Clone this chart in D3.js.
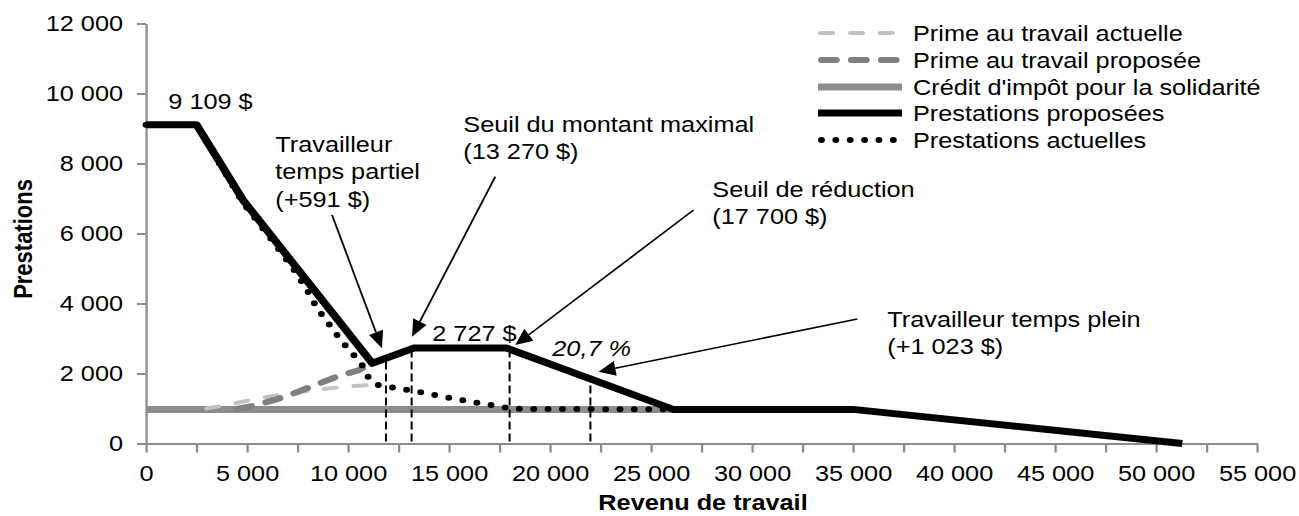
<!DOCTYPE html>
<html lang="fr">
<head>
<meta charset="utf-8">
<title>Prestations selon le revenu de travail</title>
<script src="https://d3js.org/d3.v7.min.js"></script>
<style>
  body { margin: 0; background: #fff; }
  svg text { font-family: "Liberation Sans", Arial, sans-serif; font-size: 22px; fill: #000; }
  .axis path, .axis line { stroke: #8c8c8c; stroke-width: 2; }
  .axis-title { font-weight: bold; }
</style>
</head>
<body>
<svg id="chart" width="1299" height="516"></svg>
<script>
// --- data (revenu de travail, prestations) ---
const primeActuelle = [[3000, 1000], [4000, 1100], [5000, 1220], [6000, 1330], [7000, 1420], [8000, 1500], [9000, 1570], [10000, 1630], [11400, 1680]];
const primeProposee = [[4500, 990], [5500, 1100], [6500, 1270], [7500, 1470], [8500, 1700], [9500, 1920], [10500, 2090], [11200, 2290]];
const creditSolidarite = [[0, 975], [26100, 975]];
const prestationsProposees = [[0, 9109], [2500, 9109], [4800, 6960], [11200, 2290], [13270, 2727], [17850, 2727], [26100, 975], [35000, 975], [51300, 0]];
const prestationsActuelles = [[0, 9109], [2500, 9109], [4800, 6880], [6000, 5990], [7000, 5220], [7500, 4820], [8000, 4360], [8500, 3840], [9000, 3460], [9700, 2910], [10200, 2590], [10700, 2240], [11000, 1900], [11400, 1680], [12100, 1610], [13400, 1490], [14700, 1340], [16100, 1190], [17400, 1070], [18200, 990], [26100, 975]];

const seriesLabels = ["Prime au travail actuelle", "Prime au travail proposée", "Crédit d'impôt pour la solidarité", "Prestations proposées", "Prestations actuelles"];

// vertical dashed markers: [x, top]
const seuils = [[11880, 2430], [13150, 2700], [18000, 2727], [22000, 1860]];

// annotation texts: anchor in data units
const notes = [
  { lines: ["9 109 $"], at: [1104, 9557] },
  { lines: ["Travailleur", "temps partiel", "(+591 $)"], at: [6400, 8329] },
  { lines: ["Seuil du montant maximal", "(13 270 $)"], at: [15708, 8900] },
  { lines: ["Seuil de réduction", "(17 700 $)"], at: [28035, 7043] },
  { lines: ["Travailleur temps plein", "(+1 023 $)"], at: [36698, 3329] },
  { lines: ["2 727 $"], at: [14173, 2929] },
  { lines: ["20,7 %"], at: [20114, 2500], italic: true }
];
const arrows = [
  { from: [9208, 6529], to: [11683, 2720] },
  { from: [17292, 7623], to: [13168, 3051] },
  { from: [27109, 6671], to: [18282, 2814] },
  { from: [35213, 3557], to: [22406, 2051] }
];

const xTicks = d3.range(0, 55001, 2500);
const yTicks = d3.range(0, 12001, 2000);

// --- layout ---
// the picture is horizontally stretched, so draw in a narrower space and scale x
const SX = 1.15;
const svg = d3.select("#chart");
const g = svg.append("g").attr("transform", `scale(${SX},1)`);

const x = d3.scaleLinear().domain([0, 55000]).range([146 / SX, 1257 / SX]);
const y = d3.scaleLinear().domain([0, 12000]).range([443.5, 23.5]);

const fr = d3.formatLocale({ decimal: ",", thousands: " ", grouping: [3], currency: ["", " $"] });
const fmt = fr.format(",d");

// axes
const xAxis = g.append("g").attr("class", "axis")
  .attr("transform", `translate(0,${y(0)})`)
  .call(d3.axisBottom(x).tickValues(xTicks).tickSize(9).tickSizeOuter(0)
    .tickFormat(d => d % 5000 === 0 ? fmt(d) : ""));
xAxis.selectAll("text").attr("y", 22);

const yAxis = g.append("g").attr("class", "axis")
  .attr("transform", `translate(${x(0)},0)`)
  .call(d3.axisLeft(y).tickValues(yTicks).tickSize(9 / SX).tickSizeOuter(0).tickFormat(fmt));
yAxis.selectAll("text").attr("x", -20);

g.append("text").attr("class", "axis-title")
  .attr("x", 703 / SX).attr("y", 510).attr("text-anchor", "middle")
  .text("Revenu de travail");
g.append("text").attr("class", "axis-title")
  .attr("transform", `translate(${32 / SX},239) rotate(-90)`)
  .attr("text-anchor", "middle")
  .text("Prestations");

// series
const line = d3.line().x(d => x(d[0])).y(d => y(d[1]));
const styles = [
  { stroke: "#c3c3c3", width: 4, dash: "11,15", cap: "round" },
  { stroke: "#808080", width: 6, dash: "13,13", cap: "round" },
  { stroke: "#8c8c8c", width: 7, dash: null, cap: "butt" },
  { stroke: "#000", width: 7, dash: null, cap: "butt" },
  { stroke: "#000", width: 6, dash: "0,12.5", cap: "round" }
];
const drawOrder = [
  [creditSolidarite, 2],
  [primeActuelle, 0],
  [primeProposee, 1],
  [prestationsActuelles, 4],
  [prestationsProposees, 3]
];
drawOrder.forEach(([data, i]) => {
  const s = styles[i];
  g.append("path").datum(data)
    .attr("d", line)
    .attr("fill", "none")
    .attr("stroke", s.stroke)
    .attr("stroke-width", s.width)
    .attr("stroke-dasharray", s.dash)
    .attr("stroke-linecap", s.cap)
    .attr("stroke-linejoin", "round");
});

// vertical dashed lines
g.selectAll(".seuil").data(seuils).enter().append("line")
  .attr("class", "seuil")
  .attr("x1", d => x(d[0])).attr("x2", d => x(d[0]))
  .attr("y1", y(0) - 2).attr("y2", d => y(d[1]))
  .attr("stroke", "#000").attr("stroke-width", 2 / SX)
  .attr("stroke-dasharray", "8,4");

// arrows (head computed in screen pixels, then brought back into the stretched space)
arrows.forEach(a => {
  const x0 = x(a.from[0]) * SX, y0 = y(a.from[1]);
  const x1 = x(a.to[0]) * SX, y1 = y(a.to[1]);
  const len = Math.hypot(x1 - x0, y1 - y0);
  const ux = (x1 - x0) / len, uy = (y1 - y0) / len;
  const hl = 17, hw = 7.5;
  const bx = x1 - ux * hl, by = y1 - uy * hl;
  g.append("line")
    .attr("x1", x0 / SX).attr("y1", y0)
    .attr("x2", bx / SX).attr("y2", by)
    .attr("stroke", "#000").attr("stroke-width", 1.6);
  const pts = [[x1, y1], [bx - uy * hw, by + ux * hw], [bx + uy * hw, by - ux * hw]];
  g.append("path")
    .attr("d", "M" + pts.map(p => `${p[0] / SX},${p[1]}`).join("L") + "Z")
    .attr("fill", "#000");
});

// annotation texts
notes.forEach(n => {
  const t = g.append("text")
    .attr("x", x(n.at[0])).attr("y", y(n.at[1]))
    .style("font-style", n.italic ? "italic" : null);
  n.lines.forEach((l, i) => {
    t.append("tspan").attr("x", x(n.at[0])).attr("dy", i === 0 ? 0 : 27.5).text(l);
  });
});

// legend
const legendRows = [33, 60, 87, 113, 140];
const legend = g.append("g");
seriesLabels.forEach((label, i) => {
  const s = styles[i];
  const inset = s.cap === "round" ? s.width / 2 : 0;
  legend.append("line")
    .attr("x1", 818 / SX + inset).attr("x2", 902 / SX - inset)
    .attr("y1", legendRows[i]).attr("y2", legendRows[i])
    .attr("stroke", s.stroke).attr("stroke-width", s.width)
    .attr("stroke-dasharray", s.dash)
    .attr("stroke-linecap", s.cap);
  legend.append("text")
    .attr("x", 913 / SX).attr("y", legendRows[i] + 8)
    .text(label);
});
</script>
</body>
</html>
